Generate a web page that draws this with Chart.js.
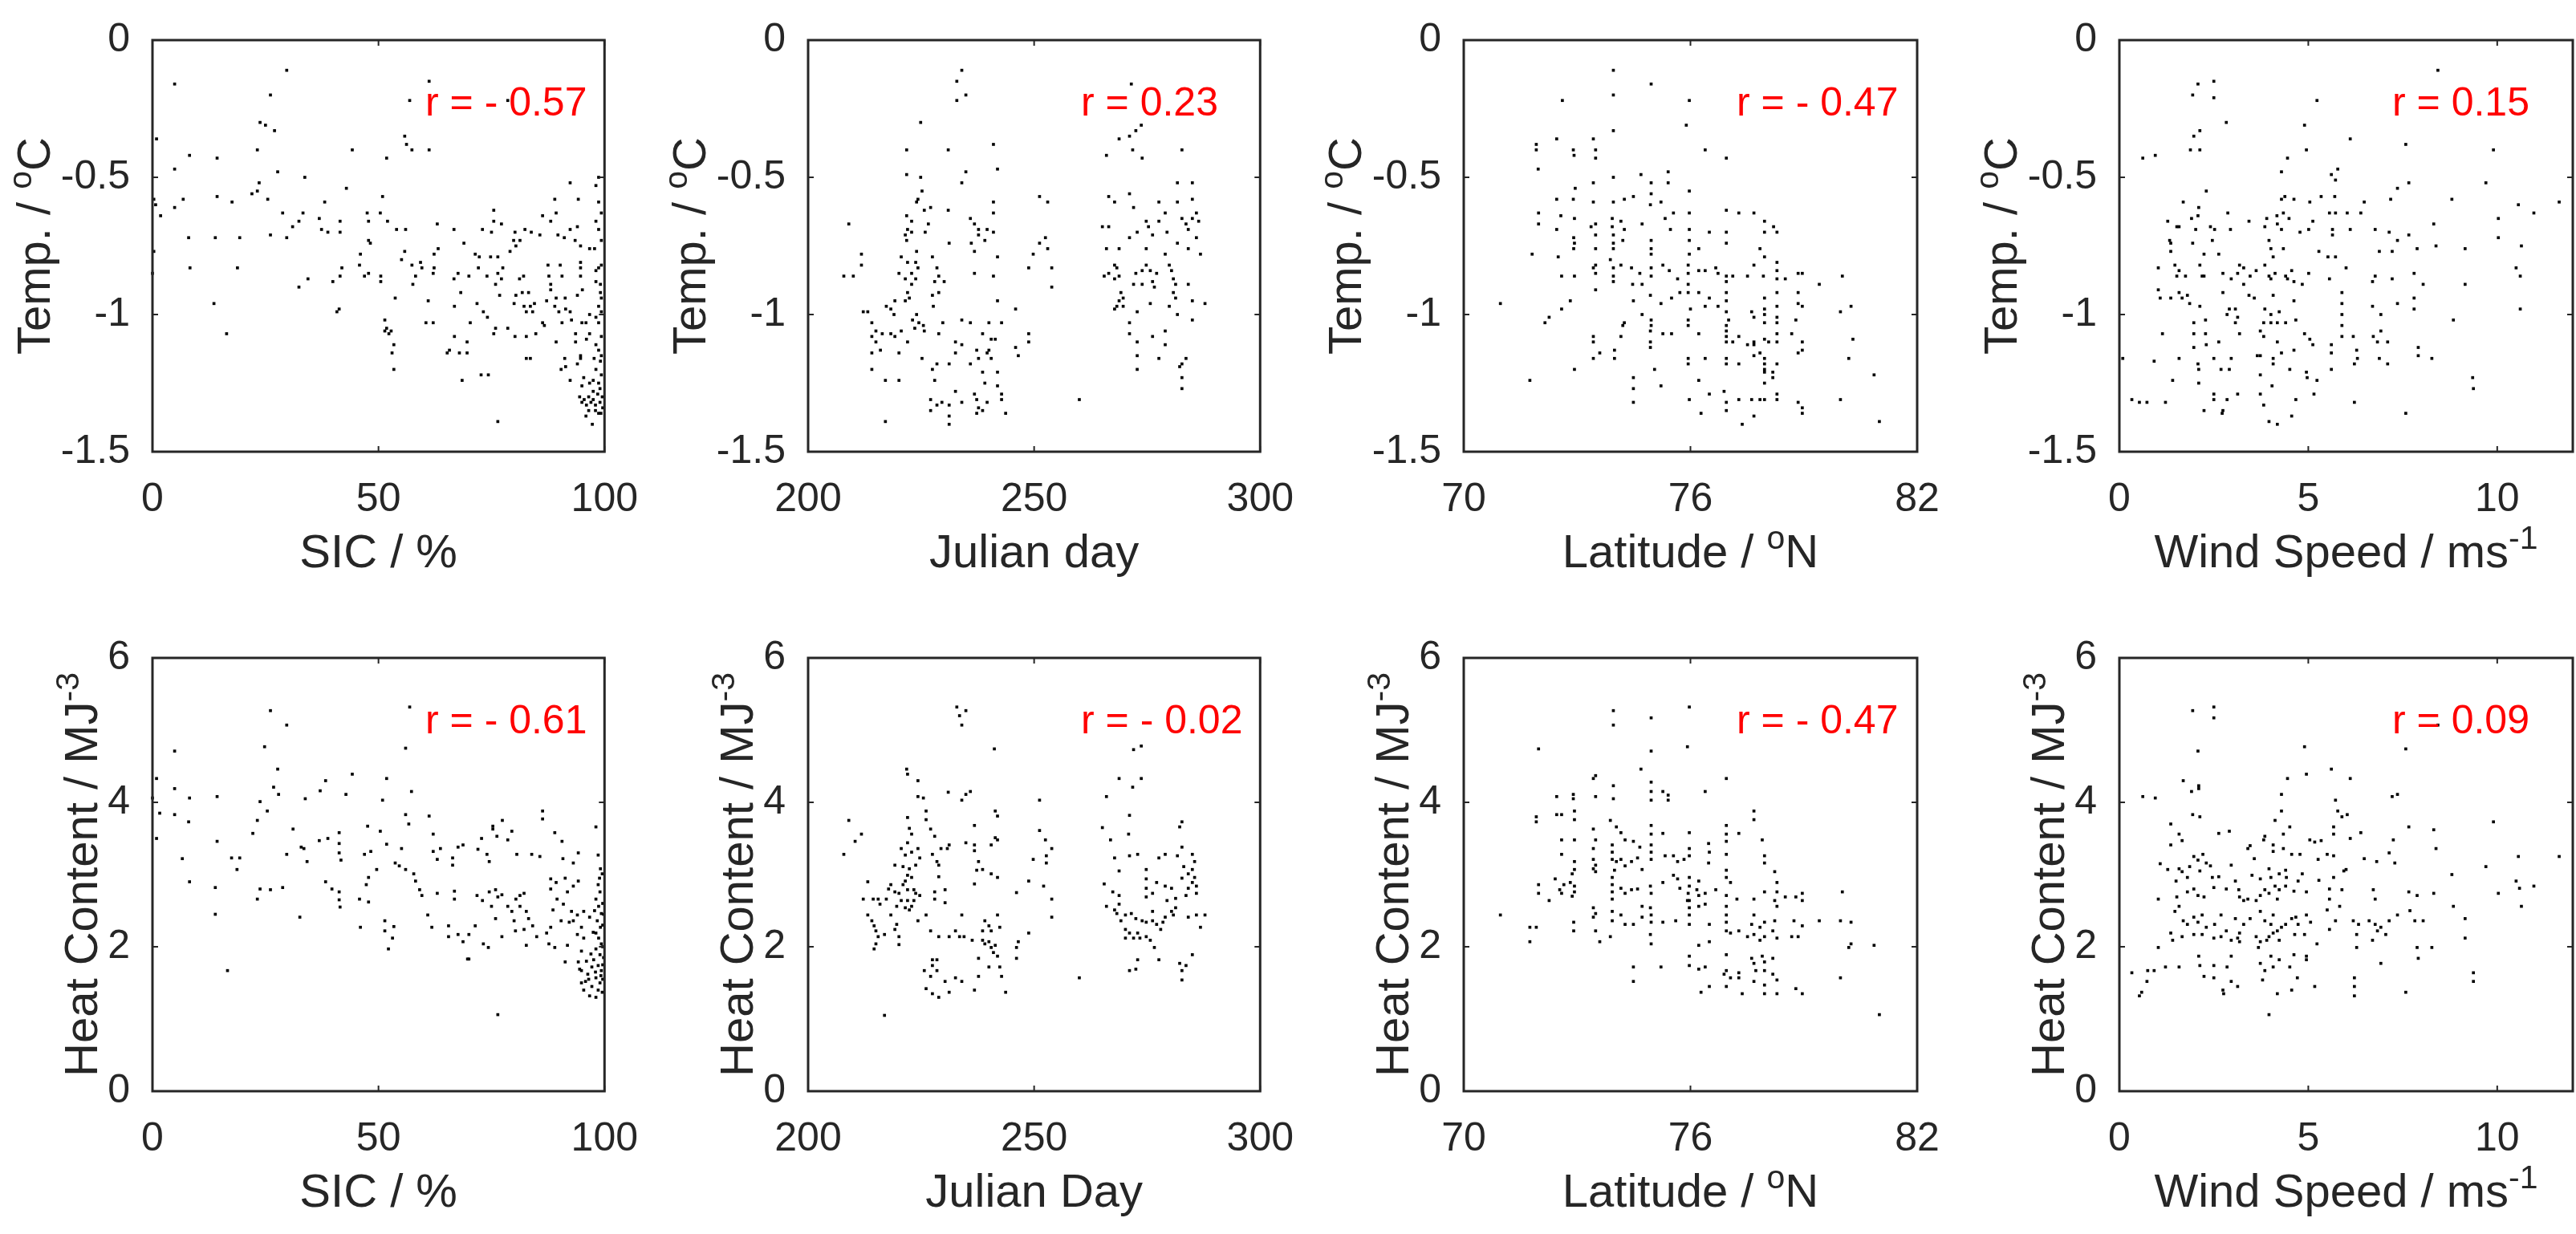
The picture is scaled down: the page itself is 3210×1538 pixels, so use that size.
<!DOCTYPE html>
<html>
<head>
<meta charset="utf-8">
<title>Temperature and heat content against SIC, day, latitude and wind</title>
<script src="https://cdn.jsdelivr.net/npm/chart.js@4.4.1/dist/chart.umd.min.js"></script>
<style>
  html, body { margin: 0; padding: 0; background: #fff; }
  body { width: 3210px; height: 1538px; overflow: hidden; position: relative; }
  canvas { position: absolute; }
</style>
</head>
<body>
<canvas id="p0"></canvas><canvas id="p1"></canvas><canvas id="p2"></canvas><canvas id="p3"></canvas>
<canvas id="p4"></canvas><canvas id="p5"></canvas><canvas id="p6"></canvas><canvas id="p7"></canvas>
<script>
// axis ranges and tick labels
const tempRange = [-1.5, 0];
const tempTicks = [-1.5, -1, -0.5, 0];
const heatRange = [0, 6];
const heatTicks = [0, 2, 4, 6];
const sicRange = [0, 100];
const sicTicks = [0, 50, 100];
const dayRange = [200, 300];
const dayTicks = [200, 250, 300];
const latRange = [70, 82];
const latTicks = [70, 76, 82];
const windRange = [0, 12];
const windTicks = [0, 5, 10];

const rTexts = ['r = - 0.57', 'r = 0.23', 'r = - 0.47', 'r = 0.15',
                'r = - 0.61', 'r = - 0.02', 'r = - 0.47', 'r = 0.09'];

// [x, y] pairs
const sicTemp = [[4.9,-0.16],[29.7,-0.11],[26.1,-0.2],[56.9,-0.22],[61.2,-0.15],[78.6,-0.22],[0.9,-0.36],[23.8,-0.3],[25,-0.31],[27,-0.33],[23.2,-0.4],[8.2,-0.42],[14.3,-0.43],[4.9,-0.47],[27.7,-0.48],[33.7,-0.5],[44.2,-0.4],[51.8,-0.43],[55.8,-0.35],[56.2,-0.38],[57.4,-0.4],[61.2,-0.4],[23.6,-0.52],[22,-0.56],[23.2,-0.55],[42.9,-0.54],[50.9,-0.57],[0.3,-0.58],[0.7,-0.6],[1.8,-0.64],[4.9,-0.61],[6.8,-0.58],[14.3,-0.57],[17.6,-0.59],[25.5,-0.58],[28.8,-0.63],[33.3,-0.63],[31,-0.68],[32.4,-0.66],[38.1,-0.59],[36.9,-0.65],[37.4,-0.69],[38.8,-0.7],[41.5,-0.66],[41.5,-0.7],[47.5,-0.63],[47.8,-0.66],[50.4,-0.63],[52,-0.66],[54,-0.69],[56,-0.69],[63,-0.67],[66.7,-0.69],[73,-0.69],[75.5,-0.62],[75.5,-0.66],[75,-0.7],[77.2,-0.67],[80.2,-0.7],[81.3,-0.73],[82.4,-0.69],[83.8,-0.7],[85.7,-0.71],[86.3,-0.64],[88.1,-0.66],[89.3,-0.63],[89,-0.58],[89.7,-0.71],[91.1,-0.72],[92.4,-0.52],[94.2,-0.58],[94,-0.68],[92.4,-0.69],[98.1,-0.53],[98.7,-0.5],[98.7,-0.59],[98.1,-0.66],[98.7,-0.69],[99.3,-0.63],[8,-0.72],[13.9,-0.72],[19.3,-0.72],[26.1,-0.71],[29.7,-0.72],[47.8,-0.73],[48.2,-0.74],[79.9,-0.73],[80.4,-0.75],[79.1,-0.77],[93.5,-0.73],[94.7,-0.75],[96.7,-0.76],[97.8,-0.76],[99.3,-0.73],[0.3,-0.77],[8.3,-0.83],[18.8,-0.83],[46,-0.78],[45.8,-0.82],[46.9,-0.86],[47.8,-0.85],[41.9,-0.83],[50.5,-0.86],[50.5,-0.88],[55.8,-0.77],[55.1,-0.8],[57.4,-0.82],[59.3,-0.81],[59.6,-0.83],[62.3,-0.78],[63.2,-0.76],[62.3,-0.83],[62.1,-0.85],[68.9,-0.74],[71.4,-0.78],[72.3,-0.79],[74.8,-0.79],[76.4,-0.79],[72.1,-0.83],[77.5,-0.83],[76.4,-0.85],[74,-0.86],[87.5,-0.82],[90.2,-0.82],[87.7,-0.86],[90.6,-0.86],[94.7,-0.81],[94.7,-0.83],[94.7,-0.86],[98.1,-0.84],[98.7,-0.83],[99.3,-0.82],[98.1,-0.88],[99.1,-0.89],[67.6,-0.85],[66.7,-0.87],[70,-0.86],[32.4,-0.9],[34.4,-0.87],[39.9,-0.88],[41.5,-0.86],[57.6,-0.89],[58.2,-0.86],[81.2,-0.87],[82.1,-0.86],[75.9,-0.89],[77.2,-0.87],[88.1,-0.89],[88.1,-0.91],[95.1,-0.91],[99.1,-0.92],[99.3,-0.94],[98.7,-0.97],[68.2,-0.92],[76.8,-0.93],[80.4,-0.93],[81.8,-0.92],[83.2,-0.92],[87.2,-0.95],[89.3,-0.94],[91.3,-0.94],[94,-0.93],[13.6,-0.96],[53.7,-0.94],[61,-0.95],[66.8,-0.97],[71.8,-0.96],[73.2,-0.99],[74.1,-1.01],[80,-0.96],[82.2,-0.97],[83.6,-0.97],[84.5,-0.96],[82.7,-0.99],[84.1,-0.99],[89,-0.97],[89.9,-0.99],[91.4,-0.98],[92.4,-0.99],[96.7,-1],[98.1,-1.01],[99.3,-0.99],[98.7,-1.03],[40.8,-0.99],[41.3,-0.98],[60.5,-1.03],[62.1,-1.03],[51.4,-1.02],[51.8,-1.05],[51.4,-1.06],[52.3,-1.07],[52.8,-1.06],[53.4,-1.11],[53,-1.14],[53.4,-1.2],[70.3,-1.03],[75.9,-1.05],[75.5,-1.07],[78.6,-1.05],[86.3,-1.03],[86.7,-1.04],[90.6,-1.03],[92.7,-1.02],[93.6,-1.07],[95,-1.03],[95.9,-1.03],[84.8,-1.07],[82.7,-1.08],[80.2,-1.08],[66.8,-1.08],[69.6,-1.1],[69.6,-1.14],[65.2,-1.14],[65.7,-1.13],[67.9,-1.14],[89.3,-1.1],[93.6,-1.1],[96,-1.09],[96.7,-1.07],[98.1,-1.11],[99.3,-1.08],[98.7,-1.13],[99.3,-1.15],[97.7,-1.16],[99.1,-1.17],[98.1,-1.2],[99.3,-1.22],[97.5,-1.24],[98.7,-1.25],[94.7,-1.15],[94.7,-1.16],[94,-1.18],[91.2,-1.16],[91.4,-1.19],[90.4,-1.2],[92.4,-1.24],[82.7,-1.16],[83.6,-1.16],[72.7,-1.22],[74.3,-1.22],[68.5,-1.24],[76.4,-1.39],[95.4,-1.23],[96.7,-1.25],[95,-1.26],[94.5,-1.3],[95.5,-1.31],[96.5,-1.3],[97.5,-1.31],[98.5,-1.29],[99.5,-1.3],[95,-1.32],[96,-1.33],[97,-1.32],[98,-1.33],[99,-1.32],[99.6,-1.34],[96.5,-1.35],[98,-1.35],[99.2,-1.36],[97.5,-1.28],[99,-1.27],[95.9,-1.37],[97.3,-1.4],[98.7,-1.36],[16.4,-1.07],[0,-0.85]];

const dayTemp = [[234,-0.11],[232.9,-0.15],[232.9,-0.22],[234.9,-0.2],[271.5,-0.16],[224.9,-0.3],[221.8,-0.4],[231,-0.4],[241,-0.38],[234.9,-0.48],[234,-0.52],[241.9,-0.47],[221.8,-0.49],[224.9,-0.5],[225.2,-0.55],[224.3,-0.58],[224,-0.59],[241,-0.59],[231,-0.62],[241,-0.63],[221.8,-0.64],[222.9,-0.66],[222,-0.69],[221.5,-0.71],[222.9,-0.7],[221.8,-0.73],[225.7,-0.62],[227.1,-0.61],[226.6,-0.67],[225.9,-0.7],[235.9,-0.65],[236.8,-0.67],[237.7,-0.69],[239.6,-0.69],[241,-0.7],[237.7,-0.71],[239.1,-0.73],[236.1,-0.74],[231.2,-0.74],[209,-0.67],[211.8,-0.78],[211.8,-0.82],[207.9,-0.86],[210,-0.86],[220.6,-0.79],[222,-0.81],[223.8,-0.81],[224.3,-0.83],[222.9,-0.85],[220.1,-0.85],[221.5,-0.87],[223.8,-0.87],[222.9,-0.89],[222,-0.92],[222.4,-0.94],[221.5,-0.95],[227.5,-0.79],[228.5,-0.83],[228.9,-0.86],[230.1,-0.88],[228,-0.88],[227.5,-0.93],[228.9,-0.92],[227.7,-0.97],[224,-0.77],[236.8,-0.77],[236.8,-0.85],[241.9,-0.79],[241,-0.86],[248.8,-0.83],[249.8,-0.78],[251.2,-0.74],[252.5,-0.72],[253,-0.76],[253.9,-0.83],[253.9,-0.9],[251.2,-0.57],[253,-0.59],[245.9,-0.98],[241.9,-0.95],[212.2,-0.99],[213.2,-0.99],[218.3,-0.98],[217.3,-0.97],[219,-1],[219.2,-0.95],[224,-1],[223.1,-1.02],[224.5,-1.03],[225.5,-1.04],[223.6,-1.05],[214.1,-1.03],[215,-1.06],[214.1,-1.08],[215,-1.1],[216.4,-1.07],[218.3,-1.07],[219.2,-1.08],[220.6,-1.06],[222,-1.1],[220.1,-1.14],[214.1,-1.14],[216,-1.13],[214.1,-1.2],[217.1,-1.24],[220.1,-1.24],[217.1,-1.39],[225.7,-1.06],[228.9,-1.07],[229.8,-1.03],[234,-1.02],[235.9,-1.03],[240,-1.03],[242.8,-1.03],[232.6,-1.1],[234,-1.11],[232.6,-1.14],[237.3,-1.13],[238.6,-1.07],[240.5,-1.09],[241.4,-1.09],[239.6,-1.14],[240.5,-1.16],[240,-1.13],[225.2,-1.16],[228.5,-1.18],[231.2,-1.18],[235.9,-1.18],[237.7,-1.16],[227.5,-1.2],[228,-1.24],[238.6,-1.21],[241.9,-1.21],[239.1,-1.25],[241.9,-1.26],[227.1,-1.31],[228.5,-1.33],[229.6,-1.32],[231.2,-1.33],[232.6,-1.28],[234,-1.32],[236.8,-1.29],[237.3,-1.31],[238.6,-1.35],[239.6,-1.32],[242.8,-1.29],[242.8,-1.31],[227.1,-1.35],[231.2,-1.37],[231.2,-1.4],[237.3,-1.36],[237.7,-1.34],[243.7,-1.36],[245.9,-1.12],[246.5,-1.15],[248.8,-1.07],[248.8,-1.1],[260,-1.31],[273.7,-0.31],[272.5,-0.33],[271.1,-0.35],[268.8,-0.36],[271.8,-0.4],[273.9,-0.43],[266,-0.42],[282.7,-0.4],[266.5,-0.57],[267.8,-0.59],[271.1,-0.56],[272,-0.61],[277.6,-0.59],[281.7,-0.59],[281.7,-0.52],[285,-0.52],[285,-0.58],[279,-0.63],[277.6,-0.66],[279.4,-0.7],[282.7,-0.65],[283.6,-0.67],[285,-0.65],[285.9,-0.63],[286.4,-0.66],[284.1,-0.69],[285.9,-0.72],[265.1,-0.68],[266.5,-0.68],[271.1,-0.72],[272.8,-0.7],[274.8,-0.66],[276.2,-0.71],[275.3,-0.68],[266,-0.76],[268.8,-0.76],[274.8,-0.76],[279,-0.78],[281.7,-0.74],[284.1,-0.76],[286.8,-0.78],[267.8,-0.82],[266.5,-0.85],[268.8,-0.86],[267.8,-0.87],[272.5,-0.85],[273.9,-0.84],[274.8,-0.82],[275.7,-0.84],[277.1,-0.85],[279.9,-0.82],[280.4,-0.84],[280.8,-0.87],[272,-0.89],[273.9,-0.89],[276.2,-0.88],[276.6,-0.9],[281.3,-0.89],[284.1,-0.89],[269.2,-0.92],[269.7,-0.94],[268.8,-0.95],[267.8,-0.98],[268.3,-0.97],[269.7,-0.97],[280.8,-0.92],[281.3,-0.94],[285,-0.95],[287.8,-0.96],[275.7,-0.96],[279.9,-0.97],[272.8,-0.99],[281.7,-1],[285,-1.02],[271.1,-1.03],[271.1,-1.07],[272.8,-1.1],[276.2,-1.08],[279,-1.06],[279,-1.11],[277.6,-1.16],[272.8,-1.15],[272.8,-1.2],[282.7,-1.18],[283.6,-1.16],[282.2,-1.19],[282.7,-1.23],[282.7,-1.27],[265.5,-0.86],[268.3,-0.83]];

const latTemp = [[73.96,-0.11],[74.96,-0.16],[72.61,-0.22],[73.96,-0.2],[75.97,-0.22],[75.89,-0.31],[73.96,-0.33],[71.92,-0.38],[71.92,-0.4],[72.46,-0.36],[72.9,-0.4],[72.92,-0.42],[73.43,-0.36],[73.49,-0.4],[73.49,-0.43],[71.97,-0.47],[76.39,-0.4],[76.95,-0.43],[73.96,-0.5],[74.69,-0.49],[75.41,-0.48],[75.41,-0.52],[74.96,-0.52],[73.43,-0.52],[72.95,-0.54],[75.97,-0.55],[72.46,-0.58],[72.9,-0.58],[73.43,-0.59],[73.96,-0.59],[74.25,-0.58],[74.49,-0.57],[74.96,-0.56],[74.94,-0.6],[75.22,-0.59],[71.98,-0.63],[71.98,-0.67],[72.57,-0.64],[72.93,-0.65],[72.46,-0.69],[73.37,-0.68],[73.49,-0.67],[73.93,-0.65],[73.93,-0.68],[74.16,-0.66],[74.25,-0.69],[74.72,-0.67],[75.55,-0.63],[75.97,-0.63],[75.33,-0.65],[75.47,-0.69],[76.95,-0.62],[77.28,-0.63],[77.68,-0.63],[77.96,-0.66],[78.2,-0.68],[78.29,-0.7],[77.96,-0.7],[72.91,-0.72],[72.93,-0.74],[72.91,-0.76],[73.49,-0.71],[73.49,-0.76],[73.96,-0.71],[73.96,-0.74],[73.96,-0.76],[74.21,-0.73],[74.96,-0.73],[74.96,-0.76],[75.97,-0.69],[75.97,-0.73],[76.5,-0.7],[76.95,-0.7],[76.95,-0.74],[71.81,-0.78],[72.5,-0.79],[73.88,-0.8],[74.16,-0.82],[74.96,-0.78],[75.97,-0.78],[76.22,-0.76],[77.84,-0.76],[77.96,-0.79],[73.49,-0.82],[73.49,-0.85],[73.43,-0.83],[73.96,-0.83],[73.96,-0.86],[73.96,-0.88],[74.44,-0.83],[74.66,-0.85],[74.96,-0.83],[74.96,-0.86],[75.27,-0.82],[75.44,-0.84],[75.66,-0.87],[75.94,-0.82],[75.94,-0.85],[75.94,-0.89],[76.22,-0.84],[76.39,-0.84],[76.67,-0.83],[76.73,-0.85],[76.95,-0.86],[76.95,-0.88],[77.12,-0.86],[77.51,-0.86],[77.68,-0.82],[77.93,-0.86],[78.29,-0.81],[78.29,-0.84],[78.29,-0.87],[78.51,-0.87],[78.85,-0.85],[78.96,-0.85],[79.41,-0.89],[80.02,-0.86],[72.59,-0.86],[72.93,-0.86],[73.49,-0.91],[74.47,-0.89],[74.72,-0.89],[74.49,-0.95],[74.94,-0.93],[75.22,-0.96],[75.5,-0.94],[75.72,-0.92],[75.94,-0.92],[76.22,-0.92],[76.5,-0.94],[76.95,-0.92],[76.95,-0.95],[77.96,-0.94],[78.29,-0.92],[78.29,-0.97],[78.85,-0.92],[78.85,-0.96],[78.96,-0.97],[70.97,-0.96],[72.59,-0.98],[72.82,-0.95],[72.26,-1.01],[72.15,-1.03],[74.72,-1],[74.96,-1.02],[74.96,-1.04],[75.94,-1.02],[75.94,-1.04],[76,-0.98],[76.39,-0.97],[76.73,-0.97],[76.95,-0.99],[77.01,-1.02],[76.95,-1.04],[77.62,-0.99],[77.68,-1.01],[77.96,-0.98],[77.96,-1],[77.96,-1.03],[78.29,-1.01],[78.29,-1.03],[78.79,-1.02],[79.97,-0.99],[80.25,-0.97],[74.25,-1.03],[74.21,-1.04],[73.43,-1.08],[73.43,-1.1],[74.16,-1.08],[74.94,-1.06],[74.94,-1.1],[74.94,-1.12],[75.27,-1.07],[75.5,-1.07],[76.22,-1.07],[76.95,-1.06],[76.95,-1.08],[76.95,-1.1],[77.12,-1.1],[77.28,-1.08],[77.51,-1.11],[77.68,-1.1],[77.68,-1.11],[77.96,-1.09],[78.07,-1.1],[78.29,-1.07],[78.29,-1.1],[78.68,-1.07],[78.96,-1.1],[80.3,-1.09],[73.43,-1.16],[73.6,-1.14],[73.99,-1.13],[73.99,-1.16],[75.94,-1.16],[75.94,-1.18],[76.39,-1.16],[76.95,-1.16],[76.95,-1.18],[77.28,-1.18],[77.68,-1.15],[77.84,-1.14],[77.96,-1.16],[77.96,-1.18],[78.29,-1.18],[77.96,-1.2],[77.96,-1.21],[78.18,-1.21],[78.85,-1.14],[78.96,-1.13],[80.19,-1.16],[72.93,-1.2],[75.05,-1.2],[71.75,-1.24],[74.49,-1.23],[74.49,-1.27],[75.22,-1.26],[76.22,-1.24],[77.96,-1.25],[78.18,-1.23],[80.86,-1.22],[74.49,-1.32],[75.97,-1.31],[76.5,-1.29],[76.89,-1.28],[76.95,-1.32],[76.95,-1.35],[77.28,-1.31],[77.62,-1.31],[77.84,-1.31],[77.96,-1.31],[78.29,-1.29],[78.29,-1.31],[78.85,-1.32],[78.96,-1.34],[78.96,-1.36],[79.97,-1.31],[76.28,-1.36],[77.37,-1.4],[77.68,-1.37],[81,-1.39]];

const windTemp = [[8.43,-0.11],[2.08,-0.16],[1.94,-0.2],[2.5,-0.15],[2.5,-0.21],[5.23,-0.22],[2.83,-0.3],[4.9,-0.31],[2.13,-0.33],[1.97,-0.35],[1.88,-0.4],[2.13,-0.4],[6.11,-0.36],[4.95,-0.4],[7.58,-0.38],[9.9,-0.4],[0.62,-0.43],[0.95,-0.42],[4.45,-0.43],[4.29,-0.48],[5.61,-0.49],[5.78,-0.47],[5.72,-0.51],[7.66,-0.52],[7.36,-0.54],[9.7,-0.52],[2.3,-0.55],[4.38,-0.57],[4.29,-0.58],[4.62,-0.58],[5.04,-0.59],[5.34,-0.57],[5.7,-0.57],[6.48,-0.59],[7.18,-0.58],[8.8,-0.58],[10.56,-0.6],[10.97,-0.63],[11.64,-0.59],[1.69,-0.59],[2.1,-0.61],[2.87,-0.63],[4.34,-0.63],[4.17,-0.64],[5.56,-0.63],[5.72,-0.63],[6.03,-0.63],[6.39,-0.63],[1.28,-0.66],[1.52,-0.68],[1.58,-0.68],[1.91,-0.65],[2.08,-0.64],[2.02,-0.69],[2.41,-0.68],[2.52,-0.69],[2.94,-0.69],[3.43,-0.66],[3.9,-0.65],[3.85,-0.68],[4.18,-0.67],[4.29,-0.69],[4.49,-0.65],[4.78,-0.7],[5.01,-0.69],[5.12,-0.66],[5.64,-0.69],[5.64,-0.71],[6.11,-0.69],[6.77,-0.69],[7.14,-0.7],[7.66,-0.71],[8.32,-0.67],[10.03,-0.65],[10.03,-0.72],[1.33,-0.73],[1.36,-0.74],[1.94,-0.74],[2.46,-0.73],[3.96,-0.73],[4.01,-0.76],[4.34,-0.76],[7.36,-0.73],[8.38,-0.75],[9.15,-0.76],[10.64,-0.75],[7.88,-0.76],[6.88,-0.77],[7.22,-0.77],[5.28,-0.77],[5.52,-0.79],[5.72,-0.79],[1.36,-0.77],[2.24,-0.78],[2.63,-0.78],[4.07,-0.79],[1.03,-0.83],[1.47,-0.82],[1.58,-0.84],[1.52,-0.86],[2.13,-0.82],[2.24,-0.86],[2.19,-0.86],[1.75,-0.86],[2.74,-0.85],[2.96,-0.87],[3.13,-0.85],[3.18,-0.82],[3.29,-0.83],[3.46,-0.86],[3.62,-0.84],[3.85,-0.82],[3.96,-0.86],[4.01,-0.87],[4.12,-0.85],[4.4,-0.86],[4.45,-0.87],[4.56,-0.84],[4.62,-0.88],[4.84,-0.89],[5.01,-0.85],[5.56,-0.87],[6,-0.83],[6.77,-0.86],[6.7,-0.88],[7.22,-0.87],[7.8,-0.85],[8.04,-0.89],[9.15,-0.89],[10.5,-0.83],[10.61,-0.86],[1.03,-0.91],[1.08,-0.94],[1.36,-0.94],[1.58,-0.92],[1.66,-0.94],[1.8,-0.93],[1.86,-0.96],[2.13,-0.97],[2.74,-0.92],[3.29,-0.89],[3.43,-0.93],[3.57,-0.94],[4.07,-0.93],[4.62,-0.95],[5.89,-0.92],[5.89,-0.96],[7.8,-0.94],[7.36,-0.96],[7.8,-0.98],[10.61,-0.98],[6.7,-0.97],[2.91,-0.98],[3.07,-0.98],[3.13,-1.01],[2.85,-1],[3.85,-0.98],[4.01,-1],[4.23,-0.99],[1.97,-1.03],[2.28,-1.02],[3.82,-1.03],[4.01,-1.03],[4.18,-1.03],[4.4,-1.03],[4.67,-1.02],[5.89,-1],[5.89,-1.04],[6.92,-1],[8.84,-1.02],[3.07,-1.03],[3.18,-1.07],[1.14,-1.07],[1.97,-1.07],[2.28,-1.07],[3.73,-1.06],[3.82,-1.08],[4.18,-1.1],[4.9,-1.07],[5.04,-1.09],[5.12,-1.11],[5.89,-1.08],[6.19,-1.08],[6.72,-1.08],[6.92,-1.06],[6.83,-1.1],[7.1,-1.1],[2.63,-1.1],[2.3,-1.11],[1.97,-1.12],[7.91,-1.12],[0.92,-1.17],[1.58,-1.16],[2.08,-1.18],[2.1,-1.2],[2.5,-1.16],[2.96,-1.16],[3.65,-1.15],[3.73,-1.15],[4.07,-1.16],[4.07,-1.18],[4.29,-1.14],[4.62,-1.13],[5.61,-1.11],[5.61,-1.14],[5.61,-1.2],[6.22,-1.18],[6.28,-1.13],[6.3,-1.16],[6.88,-1.16],[7.1,-1.18],[7.91,-1.15],[8.27,-1.16],[3.73,-1.22],[4.51,-1.2],[1.41,-1.24],[2.1,-1.25],[2.69,-1.2],[2.91,-1.2],[4.95,-1.21],[4.97,-1.23],[5.23,-1.24],[9.35,-1.23],[9.37,-1.27],[0.09,-1.16],[0.33,-1.31],[0.53,-1.32],[0.73,-1.32],[1.22,-1.32],[2.5,-1.29],[2.5,-1.31],[2.85,-1.31],[3.13,-1.29],[3.73,-1.29],[3.82,-1.33],[4.04,-1.26],[4.67,-1.31],[5.15,-1.29],[6.22,-1.32],[2.24,-1.35],[2.74,-1.35],[2.72,-1.36],[3.96,-1.39],[4.18,-1.4],[4.56,-1.37],[7.58,-1.36]];

const sicHeat = [[26.1,5.27],[29.7,5.07],[56.9,5.32],[24.8,4.77],[56,4.75],[4.9,4.71],[27.7,4.46],[44.2,4.39],[51.8,4.33],[38.3,4.3],[0.9,4.33],[4.9,4.19],[8.2,4.06],[14.3,4.08],[0,4.06],[26.8,4.21],[27.9,4.11],[37.1,4.16],[42.8,4.11],[33.8,4.05],[50.9,4.03],[57.3,4.15],[23.8,4.01],[25.4,3.88],[1.6,3.85],[4.9,3.83],[8,3.73],[23.2,3.75],[31.1,3.63],[22.2,3.57],[14.3,3.46],[0.9,3.5],[56,3.83],[56.7,3.7],[61.2,3.81],[47.6,3.67],[50.4,3.6],[41.3,3.58],[41.3,3.43],[36.9,3.47],[38.8,3.5],[32.9,3.38],[33.5,3.36],[34.2,3.18],[29.7,3.28],[41.3,3.3],[41.7,3.2],[6.6,3.22],[17.5,3.23],[19.3,3.23],[18.7,3.07],[51.8,3.42],[55.1,3.36],[46.9,3.28],[48.3,3.32],[53.7,3.16],[54.6,3.12],[62.1,3.56],[62.1,3.32],[63.7,3.36],[63,3.21],[66.4,3.23],[66.4,3.13],[67.6,3.38],[68.7,3.41],[72,3.35],[74,3.28],[74.5,3.18],[72.8,3.5],[75.3,3.63],[76.2,3.53],[77.4,3.75],[75.3,3.67],[79.5,3.6],[78.6,3.48],[86.3,3.88],[86.3,3.77],[89,3.58],[90.6,3.46],[98.1,3.66],[80.6,3.28],[83.9,3.28],[85.7,3.25],[90.8,3.22],[93.1,3.16],[94.2,3.3],[98.6,3.27],[99.1,3.08],[99.5,3.01],[49.6,3.07],[47.8,2.96],[47.3,2.86],[56,3.07],[57.8,3.01],[58.2,2.91],[8.2,2.9],[13.9,2.82],[13.9,2.45],[23.8,2.8],[26.1,2.79],[28.8,2.82],[23.2,2.66],[38.3,2.9],[39.7,2.8],[41.3,2.76],[41.3,2.65],[41.5,2.55],[45.8,2.66],[47.8,2.62],[32.6,2.41],[59.1,2.79],[59.6,2.71],[63,2.74],[66.8,2.77],[66.8,2.66],[60.9,2.44],[61.8,2.27],[51.4,2.36],[51.4,2.22],[52.2,1.97],[53.1,2.12],[53.4,2.28],[46,2.27],[65.5,2.29],[65.5,2.14],[67.6,2.17],[68.7,2.07],[70,2.17],[71.4,2.29],[73.2,2.04],[74.3,1.99],[70,1.83],[71.8,2.71],[73,2.64],[74.5,2.76],[75.9,2.79],[76.4,2.69],[77.3,2.72],[75,2.56],[75.9,2.39],[77.3,2.14],[78.6,2.56],[79.5,2.49],[80.4,2.66],[81.3,2.71],[82.2,2.74],[81.3,2.56],[82.7,2.49],[83.2,2.39],[80,2.36],[80.3,2.22],[82.2,2.24],[84.1,2.29],[85,2.14],[82.7,2.02],[88.1,2.94],[88.1,2.8],[89.3,2.89],[91.3,2.95],[93.1,2.84],[94.2,2.91],[91.8,2.76],[89.5,2.66],[90.9,2.59],[88.6,2.51],[92.7,2.49],[90.4,2.36],[88.1,2.27],[87.2,2.19],[92.2,2.34],[87.7,2.04],[89,1.99],[91.8,2.02],[93.1,2.36],[94,2.44],[95.4,2.49],[96.7,2.41],[94.9,2.27],[94,2.17],[95.4,2.12],[91.3,1.79],[94.9,1.94],[98.6,2.86],[99,2.76],[98.1,2.66],[98.7,2.56],[99.3,2.46],[98.4,2.36],[99.1,2.27],[98.1,2.19],[98.7,2.12],[99.3,2.04],[98.1,1.97],[99,1.89],[97.6,1.82],[98.6,1.74],[99.3,1.67],[97.2,1.72],[96.3,1.62],[98.1,1.57],[99,1.5],[94.9,1.67],[95.8,1.52],[97.2,1.45],[98.6,1.4],[95.4,1.4],[96.7,1.32],[98.1,1.3],[94.9,1.5],[99.5,1.37],[94.2,1.79],[94.5,1.69],[99.6,2.6],[99.6,2.3],[99.6,2],[99.6,1.75],[99.6,1.55],[98.9,2.95],[97.8,2.5],[97.5,2.2],[99.8,2.45],[99.8,1.85],[97,1.9],[96,1.8],[98,1.65],[99.2,1.6],[96.5,1.55],[16.6,1.67],[76.4,1.06],[69.7,1.83]];

const dayHeat = [[232.9,5.32],[233.5,5.2],[234.9,5.27],[234,5.07],[241.2,4.74],[272,4.73],[273.7,4.78],[221.8,4.46],[222,4.39],[224.3,4.3],[268.8,4.33],[273.7,4.33],[271.8,4.21],[224.3,4.08],[225.5,4.06],[231,4.14],[234,4.03],[234.9,4.11],[235.9,4.15],[251.2,4.03],[266,4.08],[241.4,3.88],[241.9,3.81],[271.1,3.82],[282.7,3.73],[282.2,3.66],[209,3.75],[211.8,3.56],[210.4,3.46],[207.9,3.28],[222,3.79],[222.4,3.64],[222.9,3.56],[222,3.44],[226.1,3.88],[226.1,3.76],[227.1,3.63],[228,3.53],[236.8,3.68],[234.9,3.44],[236.8,3.41],[236.8,3.33],[240.5,3.41],[241.4,3.51],[241.9,3.48],[251.2,3.61],[252.5,3.48],[253.9,3.36],[252.7,3.26],[252.7,3.16],[249.8,3.21],[265.1,3.65],[266.9,3.48],[270.9,3.56],[220.6,3.36],[221.5,3.27],[222.9,3.31],[224.3,3.36],[224.7,3.23],[227.5,3.28],[228.5,3.18],[228.9,3.13],[229.4,3.36],[230.8,3.36],[231.2,3.41],[221,3.11],[223.8,3.13],[219.2,3.13],[267.8,3.23],[271.1,3.26],[272.9,3.28],[277.6,3.23],[279,3.28],[281.7,3.26],[282.7,3.38],[285,3.28],[285.5,3.18],[283.1,3.11],[285,3.07],[284.1,3.01],[268.8,3.05],[274.8,3.07],[285.5,2.96],[282.7,2.95],[285,2.89],[284.1,2.81],[285.9,2.84],[285.9,2.74],[283.6,2.71],[237.7,3.18],[238.6,3.07],[237.3,3.06],[240.5,3.01],[241.9,2.96],[228.9,2.97],[236.8,2.87],[222.4,3.08],[222,2.99],[221.5,2.91],[222.9,2.96],[221,2.86],[213.2,2.9],[218.3,2.86],[217.8,2.8],[219.2,2.76],[220.1,2.74],[222,2.79],[223.4,2.79],[223.8,2.74],[224.7,2.71],[223.4,2.64],[222,2.64],[222.9,2.56],[221.5,2.54],[222.4,2.51],[228,2.76],[228,2.66],[230.3,2.79],[230.3,2.61],[220.6,2.64],[219.6,2.56],[217.3,2.66],[215.9,2.59],[214.4,2.66],[212.2,2.66],[215.5,2.66],[248.8,2.91],[252.1,2.84],[246.1,2.75],[253.9,2.66],[253.9,2.41],[265.5,2.87],[267.4,2.76],[268.8,2.71],[274.8,2.94],[274.8,2.81],[274.8,2.69],[277.1,2.89],[276.2,2.74],[279,2.84],[280.4,2.81],[281.3,2.67],[279.4,2.64],[281.3,2.54],[280.8,2.44],[280.4,2.49],[266,2.56],[267.8,2.51],[268.8,2.59],[268.3,2.46],[269.2,2.36],[270.2,2.44],[271.5,2.46],[272.5,2.39],[273.9,2.36],[274.8,2.34],[276.2,2.36],[277.1,2.31],[278.5,2.34],[278,2.24],[279,2.41],[276.2,2.49],[284.1,2.41],[285.9,2.44],[287.8,2.44],[286.8,2.27],[270.2,2.24],[271.1,2.19],[270.2,2.12],[272.9,2.19],[273.4,2.12],[274.8,2.14],[275.7,2.09],[276.6,1.99],[272,2.12],[213.2,2.44],[214.1,2.36],[214.6,2.29],[215,2.22],[215.5,2.14],[216.9,2.17],[215,2.04],[214.6,1.97],[218.3,2.44],[219.6,2.31],[219.2,2.24],[220.1,2.14],[220.1,2.03],[224.3,2.36],[226.1,2.44],[234,2.44],[239.1,2.36],[240,2.29],[240.5,2.22],[241.9,2.44],[242.4,2.27],[238.6,2.09],[239.1,2.04],[240,2.07],[240.5,1.99],[241.4,2.02],[241,1.92],[246.5,2.07],[246.1,1.99],[246.1,1.84],[248.8,2.19],[227.1,2.22],[228.9,2.14],[231.2,2.14],[232.6,2.22],[233.5,2.14],[234.5,2.14],[236.3,2.09],[238.6,2.22],[227.5,1.82],[227.5,1.74],[228.5,1.82],[225.7,1.67],[227.1,1.59],[228.5,1.67],[230.3,1.52],[232.6,1.57],[234,1.52],[237.7,1.84],[237.7,1.59],[240,1.72],[241.9,1.87],[242.4,1.72],[242.8,1.59],[226.1,1.42],[227.5,1.35],[228.9,1.3],[231.2,1.37],[236.8,1.4],[243.7,1.37],[216.9,1.05],[260,1.57],[272.9,1.82],[272.5,1.69],[271.1,1.67],[277.6,1.82],[282.2,1.77],[282.7,1.67],[282.7,1.54],[285,1.89],[283.6,1.74]];

const latHeat = [[75.97,5.32],[73.96,5.27],[73.96,5.07],[74.96,5.17],[71.98,4.74],[74.96,4.71],[75.92,4.77],[74.69,4.46],[73.49,4.37],[73.43,4.33],[76.95,4.33],[73.96,4.23],[73.96,4.05],[74.96,4.28],[74.96,4.15],[74.96,4.03],[75.27,4.15],[75.41,4.03],[75.41,4.1],[76.39,4.15],[72.46,4.08],[72.9,4.11],[72.9,4.05],[73.49,4.08],[71.92,3.8],[71.92,3.73],[72.46,3.83],[72.59,3.83],[72.93,3.88],[72.93,3.76],[77.68,3.88],[77.68,3.76],[73.88,3.75],[74.04,3.66],[74.16,3.58],[74.27,3.48],[74.49,3.46],[74.66,3.38],[74.96,3.68],[74.96,3.56],[74.96,3.41],[75.27,3.57],[75.97,3.58],[76.95,3.68],[76.95,3.56],[77.28,3.57],[77.9,3.48],[72.59,3.48],[72.93,3.48],[73.43,3.63],[73.49,3.48],[73.43,3.36],[73.93,3.41],[73.93,3.31],[73.93,3.21],[74.04,3.18],[74.16,3.21],[74.27,3.12],[74.44,3.18],[74.6,3.23],[74.72,3.07],[74.96,3.31],[74.96,3.21],[75.33,3.26],[75.55,3.26],[75.66,3.18],[75.83,3.21],[75.97,3.36],[75.97,3.26],[76.48,3.43],[76.5,3.31],[76.48,3.16],[76.95,3.46],[76.95,3.28],[76.95,3.06],[77.96,3.26],[77.96,3.16],[72.59,3.28],[72.93,3.18],[73.43,3.21],[73.43,3.08],[73.49,3.13],[73.49,3.04],[73.99,3.06],[73.93,2.96],[72.93,3.07],[72.87,3.01],[72.82,2.89],[72.93,2.84],[72.65,2.86],[72.54,2.79],[72.59,2.74],[72.93,2.76],[72.87,2.7],[72.42,2.94],[71.98,2.86],[71.98,2.74],[72.26,2.64],[73.93,2.86],[73.93,2.76],[73.93,2.66],[74.16,2.81],[74.27,2.74],[74.44,2.79],[74.6,2.8],[74.94,2.84],[74.96,2.74],[75.27,2.89],[75.55,2.99],[75.66,2.94],[75.72,2.81],[75.97,2.96],[75.97,2.84],[75.94,2.74],[75.97,2.64],[76.17,2.79],[76.22,2.71],[76.22,2.91],[76.39,2.74],[76.67,2.79],[76.95,2.96],[77.06,2.89],[76.95,2.71],[77.23,2.66],[77.68,2.66],[77.96,2.76],[78.23,3.04],[78.29,2.89],[78.29,2.76],[78.23,2.64],[78.51,2.69],[78.79,2.69],[78.96,2.74],[78.96,2.64],[80.02,2.76],[73.43,2.54],[73.49,2.46],[73.43,2.41],[73.93,2.49],[73.93,2.36],[74.16,2.44],[74.27,2.31],[74.49,2.31],[74.72,2.56],[74.72,2.41],[74.94,2.54],[74.96,2.44],[74.96,2.34],[75.27,2.34],[75.61,2.36],[75.92,2.64],[75.97,2.54],[75.97,2.44],[75.97,2.31],[76.22,2.56],[76.39,2.59],[76.5,2.31],[76.95,2.56],[76.95,2.44],[76.95,2.34],[76.95,2.22],[77.06,2.19],[77.28,2.22],[77.51,2.14],[77.62,2.31],[77.68,2.44],[77.68,2.17],[77.84,2.27],[77.96,2.34],[77.96,2.14],[78.23,2.36],[78.29,2.56],[78.29,2.12],[78.18,2.22],[77.84,2.09],[78.74,2.36],[78.85,2.14],[78.96,2.29],[79.41,2.36],[79.97,2.36],[80.25,2.34],[71.75,2.27],[71.92,2.27],[71.75,2.07],[72.91,2.34],[72.91,2.22],[73.49,2.22],[73.6,2.07],[73.88,2.14],[74.94,2.17],[74.96,2.04],[76.22,2.02],[76.5,2.07],[80.25,2.04],[80.19,1.99],[80.86,2.02],[78.68,2.14],[74.49,1.72],[74.49,1.52],[75.22,1.72],[75.97,1.87],[75.97,1.74],[76.22,1.69],[76.39,1.72],[76.95,1.89],[76.95,1.67],[76.89,1.62],[77.06,1.57],[77.28,1.64],[77.28,1.57],[77.62,1.84],[77.68,1.77],[77.73,1.67],[77.9,1.87],[77.96,1.79],[77.96,1.67],[78.18,1.84],[78.18,1.62],[78.29,1.54],[79.97,1.57],[76.28,1.37],[76.5,1.45],[76.95,1.45],[77.37,1.35],[77.68,1.52],[77.96,1.47],[77.96,1.35],[78.29,1.35],[78.79,1.42],[78.96,1.35],[81,1.06],[70.97,2.44]];

const windHeat = [[1.94,5.27],[2.5,5.32],[2.5,5.17],[2.08,4.71],[4.9,4.77],[7.58,4.74],[8.43,5.07],[5.61,4.46],[6.11,4.33],[4.95,4.39],[4.45,4.33],[1.69,4.3],[1.91,4.15],[2.1,4.19],[2.1,4.23],[0.62,4.08],[0.95,4.06],[4.29,4.11],[7.22,4.08],[7.36,4.11],[5.72,4.03],[5.78,3.88],[6.03,3.83],[5.89,3.8],[1.94,3.83],[2.13,3.8],[4.29,3.88],[4.12,3.75],[4.51,3.66],[4.34,3.56],[1.36,3.7],[1.58,3.56],[1.66,3.47],[1.36,3.41],[2.63,3.57],[2.91,3.6],[3.85,3.53],[3.82,3.48],[5.67,3.66],[5.67,3.56],[6.39,3.58],[6.11,3.5],[7.66,3.66],[8.32,3.62],[9.9,3.73],[7.25,3.48],[8.38,3.36],[3.4,3.36],[3.46,3.4],[4.07,3.41],[4.07,3.32],[4.34,3.36],[4.56,3.28],[4.78,3.28],[5.04,3.48],[5.17,3.45],[5.34,3.47],[5.5,3.28],[5.67,3.26],[5.26,3.21],[6.48,3.22],[6.81,3.18],[7.14,3.3],[7.29,3.16],[10.56,3.25],[11.64,3.25],[9.7,3.11],[8.8,3],[1.08,3.15],[1.28,3.07],[1.58,3.08],[1.66,3.04],[1.97,3.25],[2.08,3.2],[2.21,3.28],[2.3,3.16],[2.41,3.12],[1.86,3.11],[2.13,3.05],[2.46,2.96],[2.63,2.97],[2.96,3.13],[3.57,3.22],[3.51,2.99],[3.73,2.94],[3.96,3.08],[4.01,2.96],[4.23,3.01],[4.4,3.06],[4.42,2.96],[4.73,2.91],[4.84,3.01],[5.28,2.92],[5.67,2.96],[5.94,3.05],[6,3.07],[1.03,2.66],[1.5,2.91],[1.52,2.69],[1.8,2.96],[1.8,2.76],[1.97,2.8],[2.08,2.71],[2.24,2.69],[2.5,2.82],[2.83,2.8],[3.07,2.91],[3.16,2.79],[3.18,2.69],[3.29,2.64],[3.4,2.66],[3.62,2.64],[3.73,2.71],[3.85,2.79],[3.96,2.74],[4.12,2.84],[4.18,2.66],[4.23,2.79],[4.4,2.84],[4.62,2.77],[4.95,2.76],[5.56,2.66],[5.56,2.8],[5.89,2.79],[5.83,2.56],[6.72,2.79],[6.77,2.66],[7.66,2.76],[7.88,2.71],[8.32,2.74],[10.03,2.74],[10.5,2.91],[10.59,2.81],[10.97,2.84],[10.64,2.56],[8.84,2.56],[1.47,2.49],[1.58,2.56],[1.69,2.36],[1.8,2.31],[1.97,2.41],[2.08,2.34],[2.19,2.44],[2.3,2.27],[2.52,2.31],[2.69,2.44],[2.83,2.22],[3.07,2.39],[3.18,2.19],[3.13,2.12],[3.29,2.31],[3.46,2.39],[3.73,2.49],[3.85,2.36],[4.01,2.31],[4.07,2.44],[4.18,2.22],[4.29,2.27],[4.4,2.31],[4.56,2.39],[4.67,2.41],[4.73,2.31],[4.95,2.44],[5.06,2.34],[5.5,2.51],[5.56,2.24],[5.72,2.36],[6.19,2.36],[6.28,2.17],[6.33,2.31],[6.61,2.36],[6.77,2.31],[6.92,2.27],[7.05,2.17],[6.83,2.22],[6.7,2.09],[7.14,2.36],[7.36,2.44],[7.69,2.5],[7.82,2.36],[8.04,2.36],[9.15,2.39],[6.28,1.99],[9.15,2.12],[1.36,2.19],[1.41,2.09],[1.66,2.14],[1.97,2.17],[2.19,2.17],[2.5,2.12],[2.69,2.14],[2.96,2.09],[3.18,2.07],[3.62,2.14],[3.73,2.07],[3.68,1.99],[3.9,2.09],[3.96,2.14],[4.07,2.19],[4.23,2.09],[4.64,2.17],[4.9,2.17],[5.23,2.04],[1.03,1.99],[7.88,1.99],[7.91,1.84],[8.27,1.99],[0.33,1.64],[0.75,1.67],[0.92,1.67],[1.22,1.72],[1.58,1.72],[0.73,1.52],[0.53,1.32],[0.59,1.37],[2.1,1.87],[2.13,1.74],[2.5,1.74],[2.85,1.72],[2.96,1.87],[2.24,1.59],[2.5,1.57],[2.96,1.52],[3.13,1.45],[2.74,1.4],[2.76,1.35],[3.73,1.77],[3.85,1.67],[3.79,1.54],[4.01,1.87],[4.07,1.72],[4.23,1.82],[4.51,1.72],[4.62,1.89],[4.95,1.87],[4.95,1.82],[4.71,1.57],[4.56,1.4],[4.18,1.35],[5.17,1.45],[6.22,1.57],[6.22,1.45],[6.22,1.32],[6.92,1.77],[7.58,1.37],[9.37,1.64],[9.37,1.52],[3.96,1.06]];

const FONT = '"Liberation Sans", Arial, Helvetica, sans-serif';
const INK = '#262626';

// page layout (pixels)
const colLeft = [0, 817, 1634, 2451];
const rowTop = [0, 769];
const canvasW = 817, canvasH = 769;
const axisLeft = 190, boxW = 565;
const rowPad = [22, 51];
const rowAxisH = [206, 178];
const yTitleGap = [128, 69];

// text with superscript pieces, centred on the current origin
function drawRich(ctx, parts, size) {
  const supSize = Math.round(size * 0.7);
  let total = 0;
  const widths = parts.map(([t, sup]) => {
    ctx.font = `${sup ? supSize : size}px ${FONT}`;
    const w = ctx.measureText(t).width;
    total += w;
    return w;
  });
  let x = -total / 2;
  parts.forEach(([t, sup], i) => {
    ctx.font = `${sup ? supSize : size}px ${FONT}`;
    ctx.fillText(t, x, sup ? -size * 0.4 : 0);
    x += widths[i];
  });
}

const framePlugin = {
  id: 'frame',
  afterDatasetsDraw(chart) {
    const { ctx, chartArea: a, scales } = chart;
    const len = 7;
    ctx.save();
    ctx.strokeStyle = INK;
    ctx.lineWidth = 2;
    ctx.beginPath();
    scales.x.ticks.forEach(t => {
      const px = scales.x.getPixelForValue(t.value);
      ctx.moveTo(px, a.bottom); ctx.lineTo(px, a.bottom - len);
      ctx.moveTo(px, a.top); ctx.lineTo(px, a.top + len);
    });
    scales.y.ticks.forEach(t => {
      const py = scales.y.getPixelForValue(t.value);
      ctx.moveTo(a.left, py); ctx.lineTo(a.left + len, py);
      ctx.moveTo(a.right, py); ctx.lineTo(a.right - len, py);
    });
    ctx.stroke();
    ctx.lineWidth = 3;
    ctx.strokeRect(a.left, a.top, a.right - a.left, a.bottom - a.top);
    ctx.restore();
  },
  afterDraw(chart, args, opts) {
    const { ctx, chartArea: a } = chart;
    ctx.save();
    ctx.fillStyle = INK;
    ctx.textBaseline = 'alphabetic';
    ctx.textAlign = 'left';
    // x title
    ctx.save();
    ctx.translate((a.left + a.right) / 2, a.bottom + 144);
    drawRich(ctx, opts.xTitle, 58);
    ctx.restore();
    // y title
    ctx.save();
    ctx.translate(a.left - opts.yGap, (a.top + a.bottom) / 2);
    ctx.rotate(-Math.PI / 2);
    drawRich(ctx, opts.yTitle, 58);
    ctx.restore();
    // correlation
    ctx.fillStyle = '#ff0000';
    ctx.font = `50px ${FONT}`;
    ctx.fillText(opts.rText, a.left + 340, a.top + 94);
    ctx.restore();
  }
};

function panel(idx, points, xRange, xTicks, yRange, yTicks, xTitle, yTitle) {
  const row = idx < 4 ? 0 : 1, col = idx % 4;
  const cv = document.getElementById('p' + idx);
  cv.width = canvasW; cv.height = canvasH;
  cv.style.left = colLeft[col] + 'px';
  cv.style.top = rowTop[row] + 'px';
  const tickFont = { family: FONT, size: 50 };
  new Chart(cv, {
    type: 'scatter',
    data: {
      datasets: [{
        data: points.map(([x, y]) => ({ x, y })),
        pointStyle: 'rect',
        radius: 2.6,
        backgroundColor: '#000',
        borderWidth: 0,
        clip: false
      }]
    },
    options: {
      responsive: false,
      animation: false,
      devicePixelRatio: 1,
      events: [],
      layout: {
        autoPadding: false,
        padding: { top: rowPad[row], right: canvasW - axisLeft - boxW, left: 0, bottom: 0 }
      },
      plugins: {
        legend: { display: false },
        tooltip: { enabled: false },
        frame: { xTitle, yTitle, yGap: yTitleGap[row], rText: rTexts[idx] }
      },
      scales: {
        x: {
          type: 'linear', position: 'bottom',
          min: xRange[0], max: xRange[1],
          grid: { display: false }, border: { display: false },
          afterBuildTicks: s => { s.ticks = xTicks.map(v => ({ value: v })); },
          afterFit: s => { s.height = rowAxisH[row]; },
          ticks: { font: tickFont, color: INK, padding: 22, maxRotation: 0, autoSkip: false, callback: v => String(v) }
        },
        y: {
          type: 'linear', position: 'left',
          min: yRange[0], max: yRange[1],
          grid: { display: false }, border: { display: false },
          afterBuildTicks: s => { s.ticks = yTicks.map(v => ({ value: v })); },
          afterFit: s => { s.width = axisLeft; },
          ticks: { font: tickFont, color: INK, padding: 20, autoSkip: false, callback: v => String(v) }
        }
      }
    },
    plugins: [framePlugin]
  });
}

const tempTitle = [['Temp. / ', false], ['o', true], ['C', false]];
const heatTitle = [['Heat Content / MJ', false], ['-3', true]];
const latTitle = [['Latitude / ', false], ['o', true], ['N', false]];
const windTitle = [['Wind Speed / ms', false], ['-1', true]];

panel(0, sicTemp, sicRange, sicTicks, tempRange, tempTicks, [['SIC / %', false]], tempTitle);
panel(1, dayTemp, dayRange, dayTicks, tempRange, tempTicks, [['Julian day', false]], tempTitle);
panel(2, latTemp, latRange, latTicks, tempRange, tempTicks, latTitle, tempTitle);
panel(3, windTemp, windRange, windTicks, tempRange, tempTicks, windTitle, tempTitle);
panel(4, sicHeat, sicRange, sicTicks, heatRange, heatTicks, [['SIC / %', false]], heatTitle);
panel(5, dayHeat, dayRange, dayTicks, heatRange, heatTicks, [['Julian Day', false]], heatTitle);
panel(6, latHeat, latRange, latTicks, heatRange, heatTicks, latTitle, heatTitle);
panel(7, windHeat, windRange, windTicks, heatRange, heatTicks, windTitle, heatTitle);
</script>
</body>
</html>
